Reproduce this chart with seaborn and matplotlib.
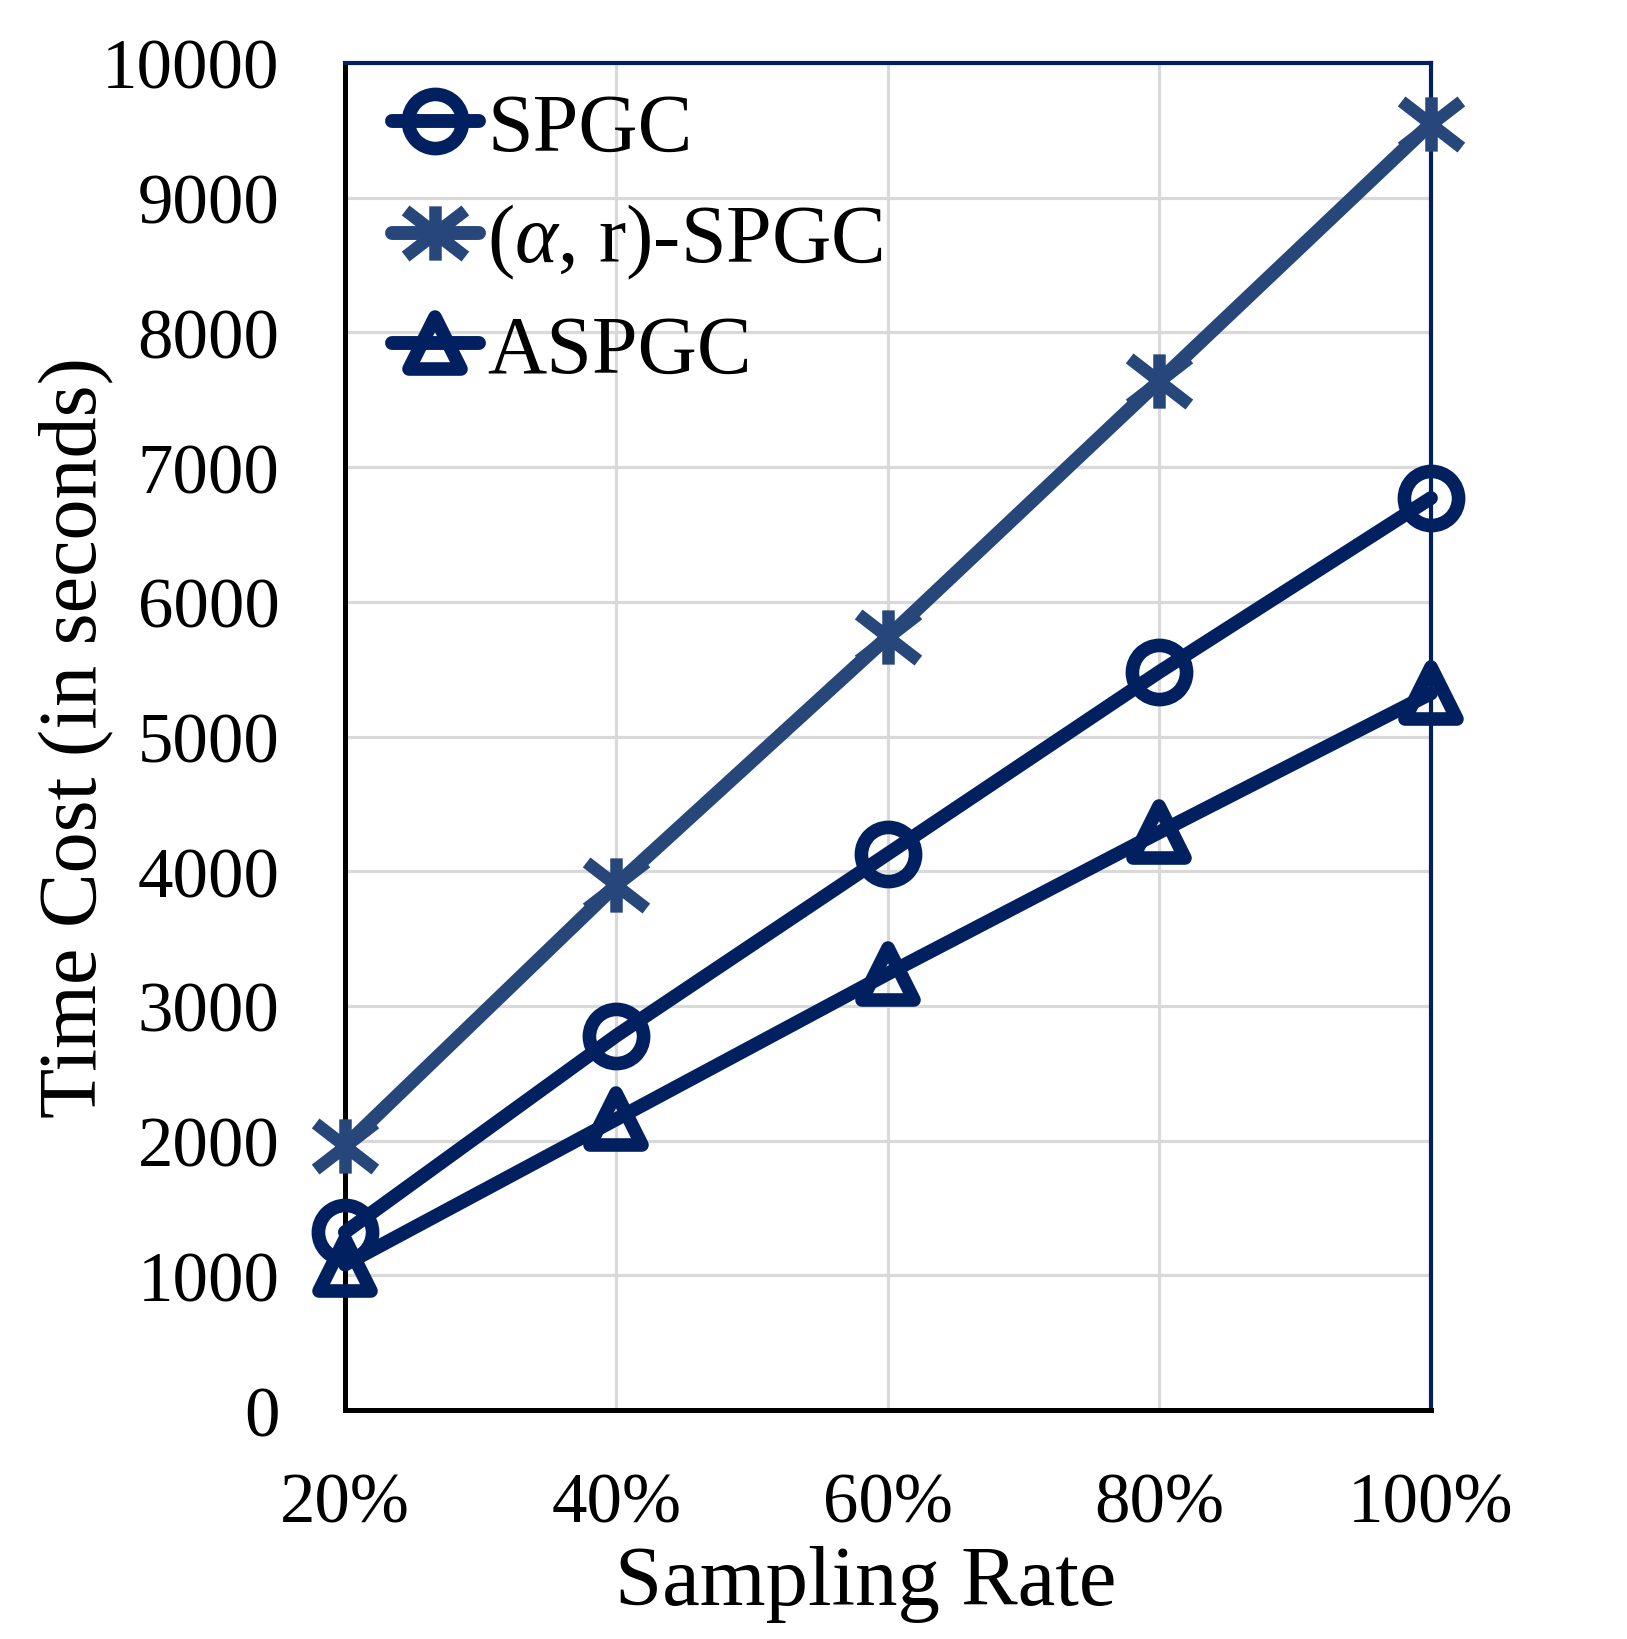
import numpy as np
import pandas as pd
import matplotlib
matplotlib.use('Agg')
import matplotlib.pyplot as plt
from matplotlib.path import Path
from matplotlib.markers import MarkerStyle
import seaborn as sns

# ── data ────────────────────────────────────────────────────
sampling_rates = ['20%', '40%', '60%', '80%', '100%']
spgc       = [1320, 2780, 4130, 5480, 6770]
ar_spgc    = [1960, 3900, 5740, 7640, 9550]
aspgc      = [1080, 2160, 3240, 4290, 5320]
y_ticks    = list(range(0, 10001, 1000))

# ── style ───────────────────────────────────────────────────
sns.set_style("white")
plt.rcParams['font.family'] = ['Liberation Serif', 'DejaVu Serif']
plt.rcParams['mathtext.fontset'] = 'custom'
plt.rcParams['mathtext.rm'] = 'Liberation Serif'
plt.rcParams['mathtext.it'] = 'Liberation Serif:italic'
for key in ['text.color', 'axes.labelcolor', 'xtick.color', 'ytick.color']:
    plt.rcParams[key] = 'black'

NAVY = '#002060'
STEEL = '#274679'
GRID = '#D9D9D9'

# asterisk marker: vertical bar + two diagonals (no horizontal arm)
star_path = Path(
    [(0, -1), (0, 1), (-1.1, -0.85), (1.1, 0.85), (-1.1, 0.85), (1.1, -0.85)],
    [Path.MOVETO, Path.LINETO, Path.MOVETO, Path.LINETO, Path.MOVETO, Path.LINETO])
star_marker = MarkerStyle(star_path, capstyle='butt')
circle_marker = MarkerStyle('o')
tri_marker = MarkerStyle('^', joinstyle='round')

x = np.arange(len(sampling_rates))
df = pd.DataFrame({'x': x, 'SPGC': spgc, 'AR': ar_spgc, 'ASPGC': aspgc})

fig, ax = plt.subplots(figsize=(16.27, 16.40), dpi=100)
fig.subplots_adjust(left=0.212, right=0.8795, bottom=0.1396, top=0.961)

lw = 10
sns.lineplot(data=df, x='x', y='SPGC', ax=ax, color=NAVY, lw=lw,
             marker=circle_marker, markersize=39, markeredgewidth=9.8,
             markerfacecolor='none', markeredgecolor=NAVY, label='SPGC',
             zorder=4, clip_on=False)
sns.lineplot(data=df, x='x', y='AR', ax=ax, color=STEEL, lw=lw,
             marker=star_marker, markersize=43, markeredgewidth=9,
             markerfacecolor='none', markeredgecolor=STEEL,
             label='($\\alpha$, r)-SPGC', zorder=3, clip_on=False)
sns.lineplot(data=df, x='x', y='ASPGC', ax=ax, color=NAVY, lw=lw,
             marker=tri_marker, markersize=38, markeredgewidth=9.8,
             markerfacecolor='none', markeredgecolor=NAVY, label='ASPGC',
             zorder=4, clip_on=False)

ax.set_xlim(0, len(sampling_rates) - 1)
ax.set_ylim(0, 10000)
ax.set_xticks(x)
ax.set_xticklabels(sampling_rates)
ax.set_yticks(y_ticks)
ax.set_yticklabels([str(v) for v in y_ticks])
ax.tick_params(axis='x', length=0, pad=44, labelsize=51)
ax.tick_params(axis='y', length=0, pad=47, labelsize=51)

ax.grid(True, color=GRID, lw=2.3)
ax.set_axisbelow(True)

for side in ['left', 'bottom']:
    ax.spines[side].set_color('black')
    ax.spines[side].set_linewidth(3.6)
for side in ['top', 'right']:
    ax.spines[side].set_color(NAVY)
    ax.spines[side].set_linewidth(3.0)

ax.set_xlabel('Sampling Rate', fontsize=61)
ax.xaxis.set_label_coords(0.48, -0.100)
ax.set_ylabel('Time Cost (in seconds)', fontsize=59, va='center')
ax.yaxis.set_label_coords(-0.247, 0.5)

leg = ax.legend(loc='upper left', bbox_to_anchor=(0.043, 0.978),
                frameon=False, fontsize=59, handlelength=1.07,
                handletextpad=0.1, labelspacing=0.41, borderpad=0,
                borderaxespad=0)

fig.savefig('out.png', dpi=100)
